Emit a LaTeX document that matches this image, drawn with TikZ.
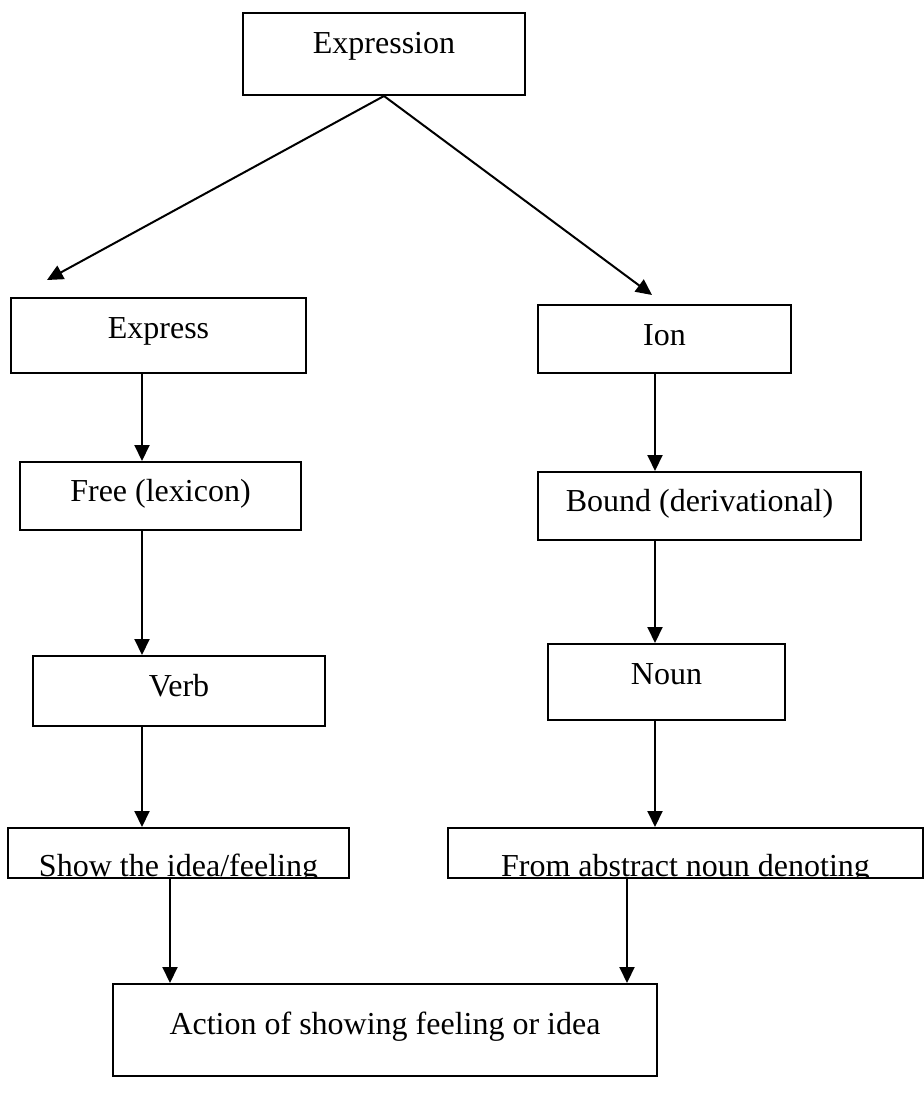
\documentclass[tikz,border=0pt]{standalone}
\usepackage{fontspec}
\setmainfont{Liberation Serif}
\usetikzlibrary{arrows.meta}
\newcommand{\boxfont}{\fontsize{32}{38}\selectfont}

\begin{document}
\begin{tikzpicture}[
    x=1pt, y=-1pt,
    box/.style={draw, rectangle, line width=2pt, inner xsep=0pt, inner ysep=0pt, anchor=north west, font=\boxfont},
    cutbox/.style={draw, rectangle, line width=2pt, inner sep=0pt, anchor=north west,
        path picture={\node[font=\boxfont, inner sep=0pt, anchor=base] at ([yshift=2pt]path picture bounding box.south) {#1};}},
    arrow/.style={line width=2pt, -{Triangle[length=16pt,width=15pt]}}
]
    \useasboundingbox (0,0) rectangle (923,1099);

    % Word being split
    \node (expr) [box, minimum width=282pt, text height=41pt, text depth=41pt] at (242,12) {Expression};

    % Left column (free morpheme)
    \node (express) [box, minimum width=295pt, text height=40pt, text depth=35pt] at (10,297) {Express};
    \node (free) [box, minimum width=281pt, text height=39pt, text depth=29pt] at (19,461) {Free (lexicon)};
    \node (verb) [box, minimum width=292pt, text height=40pt, text depth=30pt] at (32,655) {Verb};
    \node (show) [cutbox={Show the idea/feeling}, minimum width=341pt, minimum height=50pt] at (7,827) {};

    % Right column (bound morpheme)
    \node (ion) [box, minimum width=253pt, text height=40pt, text depth=28pt] at (537,304) {Ion};
    \node (bound) [box, minimum width=323pt, text height=39pt, text depth=29pt] at (537,471) {Bound (derivational)};
    \node (noun) [box, minimum width=237pt, text height=40pt, text depth=36pt] at (547,643) {Noun};
    \node (from) [cutbox={From abstract noun denoting}, minimum width=475pt, minimum height=50pt] at (447,827) {};

    % Meaning of the whole word
    \node (action) [box, minimum width=544pt, text height=50pt, text depth=42pt] at (112,983) {Action of showing feeling or idea};

    % Columns of the arrows
    \coordinate (lcol) at (142,0);
    \coordinate (rcol) at (655,0);
    \coordinate (lmerge) at (170,0);
    \coordinate (rmerge) at (627,0);

    % Connections
    \draw [arrow] (expr.south) -- ([xshift=37pt,yshift=17pt]express.north west);
    \draw [arrow] (expr.south) -- ([xshift=115pt,yshift=9pt]ion.north west);

    \draw [arrow] (express.south -| lcol) -- (free.north -| lcol);
    \draw [arrow] (free.south -| lcol) -- (verb.north -| lcol);
    \draw [arrow] (verb.south -| lcol) -- (show.north -| lcol);

    \draw [arrow] (ion.south -| rcol) -- (bound.north -| rcol);
    \draw [arrow] (bound.south -| rcol) -- (noun.north -| rcol);
    \draw [arrow] (noun.south -| rcol) -- (from.north -| rcol);

    \draw [arrow] (show.south -| lmerge) -- (action.north -| lmerge);
    \draw [arrow] (from.south -| rmerge) -- (action.north -| rmerge);
\end{tikzpicture}
\end{document}
